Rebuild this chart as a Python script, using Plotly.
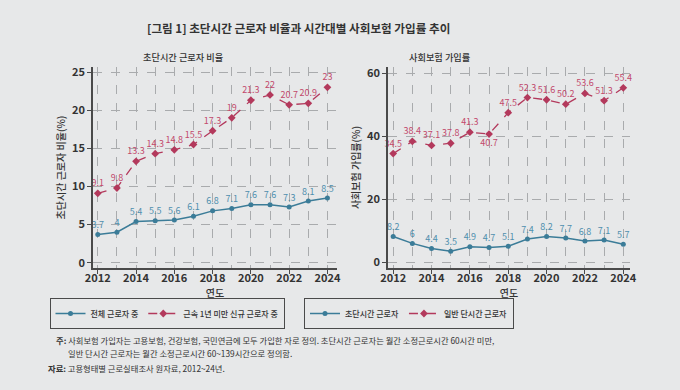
import plotly.graph_objects as go

years = list(range(2012, 2025))

# Left panel: 초단시간 근로자 비율 (%)
ratio_all = [3.7, 4, 5.4, 5.5, 5.6, 6.1, 6.8, 7.1, 7.6, 7.6, 7.3, 8.1, 8.5]
ratio_new = [9.1, 9.8, 13.3, 14.3, 14.8, 15.5, 17.3, 19, 21.3, 22, 20.7, 20.9, 23]

# Right panel: 사회보험 가입률 (%)
ins_ultra = [8.2, 6, 4.4, 3.5, 4.9, 4.7, 5.1, 7.4, 8.2, 7.7, 6.8, 7.1, 5.7]
ins_part = [34.5, 38.4, 37.1, 37.8, 41.3, 40.7, 47.5, 52.3, 51.6, 50.2, 53.6, 51.3, 55.4]

x_ticks = [2012, 2014, 2016, 2018, 2020, 2022, 2024]
left_yticks = [0, 5, 10, 15, 20, 25]
right_yticks = [0, 20, 40, 60]

W, H = 680, 390
BG = "#e7e8e9"
BLUE = "#3b7c98"
RED = "#b3395c"
BLUE_T = "#4f8fae"
RED_T = "#c2496c"
GRID = "#a9abad"
AX = "#4a4a4a"
TXT = "#333333"
FONT = "Noto Sans CJK KR"


def fmt(v):
    return f"{v:g}"


def px_x(p):
    return p / W


def px_y(p):
    return 1 - p / H


pos_top = ["top center"] * 13
pos_part = list(pos_top)
pos_part[5] = "bottom center"

LBL = 9

fig = go.Figure()

fig.add_trace(go.Scatter(
    x=years, y=ratio_all, name="전체 근로자 중", mode="lines+markers+text",
    line=dict(color=BLUE, width=1.5), marker=dict(color=BLUE, size=5, symbol="circle"),
    text=[fmt(v) for v in ratio_all], textposition=pos_top,
    textfont=dict(color=BLUE_T, size=LBL, family=FONT),
    xaxis="x", yaxis="y", legend="legend", cliponaxis=False))
fig.add_trace(go.Scatter(
    x=years, y=ratio_new, name="근속 1년 미만 신규 근로자 중", mode="lines+markers+text",
    line=dict(color=RED, width=1.3, dash="dash"), marker=dict(color=RED, size=6, symbol="diamond"),
    text=[fmt(v) for v in ratio_new], textposition=pos_top,
    textfont=dict(color=RED_T, size=LBL, family=FONT),
    xaxis="x", yaxis="y", legend="legend", cliponaxis=False))

fig.add_trace(go.Scatter(
    x=years, y=ins_ultra, name="초단시간 근로자", mode="lines+markers+text",
    line=dict(color=BLUE, width=1.5), marker=dict(color=BLUE, size=5, symbol="circle"),
    text=[fmt(v) for v in ins_ultra], textposition=pos_top,
    textfont=dict(color=BLUE_T, size=LBL, family=FONT),
    xaxis="x2", yaxis="y2", legend="legend2", cliponaxis=False))
fig.add_trace(go.Scatter(
    x=years, y=ins_part, name="일반 단시간 근로자", mode="lines+markers+text",
    line=dict(color=RED, width=1.3, dash="dash"), marker=dict(color=RED, size=6, symbol="diamond"),
    text=[fmt(v) for v in ins_part], textposition=pos_part,
    textfont=dict(color=RED_T, size=LBL, family=FONT),
    xaxis="x2", yaxis="y2", legend="legend2", cliponaxis=False))

common_x = dict(
    tickvals=x_ticks, showline=True, linecolor=AX, linewidth=1.5,
    ticks="outside", ticklen=4, tickcolor=AX, ticklabelstandoff=-5,
    showgrid=True, gridcolor=GRID, griddash="dash", gridwidth=1,
    minor=dict(dtick=1, tick0=2012, showgrid=True, gridcolor=GRID, griddash="dash", gridwidth=1),
    zeroline=False, automargin=False,
    tickfont=dict(size=11, color=TXT, family=FONT, weight=600),
    title=dict(text="연도", font=dict(size=10, color=TXT, family=FONT, weight=500), standoff=0),
)
common_y = dict(
    showline=True, linecolor=AX, linewidth=1.5,
    ticks="outside", ticklen=4, tickcolor=AX,
    showgrid=True, gridcolor=GRID, griddash="dash", gridwidth=1,
    zeroline=False, automargin=False,
    tickfont=dict(size=11, color=TXT, family=FONT, weight=600),
)

fig.update_layout(
    width=W, height=H,
    paper_bgcolor=BG, plot_bgcolor=BG,
    margin=dict(l=0, r=0, t=0, b=0, pad=0, autoexpand=False),
    font=dict(family=FONT, color=TXT),
    xaxis=dict(domain=[px_x(93), px_x(337)], range=[2011.75, 2024.5], anchor="y", **common_x),
    yaxis=dict(domain=[px_y(268), px_y(67)], range=[-0.69, 25.66], tickvals=left_yticks, anchor="x",
               title=dict(text="초단시간 근로자 비율(%)", font=dict(size=10, color=TXT, family=FONT, weight=500), standoff=5),
               **common_y),
    xaxis2=dict(domain=[px_x(388), px_x(630)], range=[2011.73, 2024.35], anchor="y2", **common_x),
    yaxis2=dict(domain=[px_y(268), px_y(67)], range=[-1.81, 62.0], tickvals=right_yticks, anchor="x2",
                title=dict(text="사회보험 가입률(%)", font=dict(size=10, color=TXT, family=FONT, weight=500), standoff=5),
                **common_y),
    legend=dict(orientation="h", x=px_x(167), y=px_y(298), xanchor="center", yanchor="top",
                bordercolor=AX, borderwidth=1, bgcolor=BG,
                font=dict(size=8, color=TXT, family=FONT, weight=500), itemwidth=30,
                tracegroupgap=0),
    legend2=dict(orientation="h", x=px_x(409), y=px_y(298), xanchor="center", yanchor="top",
                 bordercolor=AX, borderwidth=1, bgcolor=BG,
                 font=dict(size=8, color=TXT, family=FONT, weight=500), itemwidth=30),
    showlegend=True,
)

annotations = [
    dict(text="[그림 1] 초단시간 근로자 비율과 시간대별 사회보험 가입률 추이", x=px_x(298), y=px_y(28),
         font=dict(size=11.6, color=TXT, family=FONT, weight=700)),
    dict(text="초단시간 근로자 비율", x=px_x(183), y=px_y(57),
         font=dict(size=9.2, color=TXT, family=FONT, weight=500)),
    dict(text="사회보험 가입률", x=px_x(440), y=px_y(57),
         font=dict(size=9.2, color=TXT, family=FONT, weight=500)),
    dict(text="<b>주:</b> 사회보험 가입자는 고용보험, 건강보험, 국민연금에 모두 가입한 자로 정의. 초단시간 근로자는 월간 소정근로시간 60시간 미만,",
         x=px_x(54), y=px_y(340), xanchor="left", font=dict(size=8.3, color=TXT, family=FONT)),
    dict(text="일반 단시간 근로자는 월간 소정근로시간 60~139시간으로 정의함.",
         x=px_x(66), y=px_y(353), xanchor="left", font=dict(size=8.3, color=TXT, family=FONT)),
    dict(text="<b>자료:</b> 고용형태별 근로실태조사 원자료, 2012~24년.",
         x=px_x(46), y=px_y(368), xanchor="left", font=dict(size=8.3, color=TXT, family=FONT)),
]
for a in annotations:
    a.update(xref="paper", yref="paper", showarrow=False, yanchor="middle")
    a.setdefault("xanchor", "center")
fig.update_layout(annotations=annotations)

fig.write_html(
    "out.html",
    config={"displayModeBar": False},
    post_script="document.body.style.margin='0';document.body.style.background='" + BG + "';",
)
